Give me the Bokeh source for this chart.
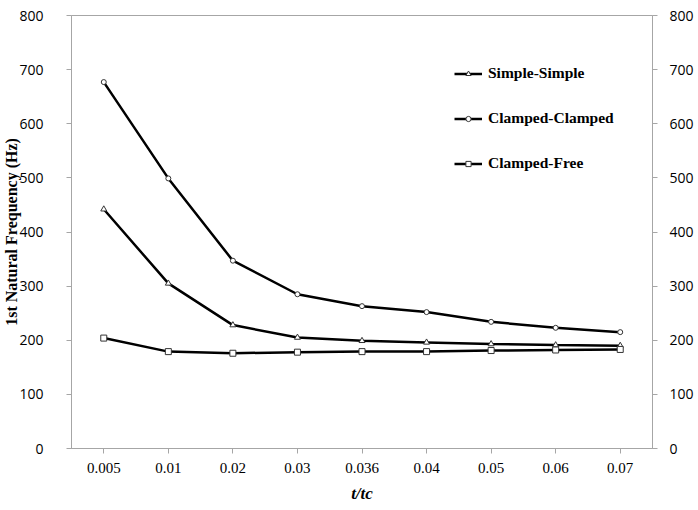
from bokeh.plotting import figure
from bokeh.models import (FactorRange, Range1d, LinearAxis, SingleIntervalTicker,
                          Legend, LegendItem)
from bokeh.embed import file_html
from bokeh.resources import INLINE

categories = ["0.005", "0.01", "0.02", "0.03", "0.036", "0.04", "0.05", "0.06", "0.07"]
simple_simple = [442, 305, 228, 205, 199, 196, 193, 191, 190]
clamped_clamped = [677, 499, 347, 285, 263, 252, 234, 223, 215]
clamped_free = [204, 179, 176, 178, 179, 179, 181, 182, 183]
y_ticks_interval = 100
y_title = "1st Natural Frequency (Hz)"
x_title = "t/tc"

AXIS_GREY = "#a6a6a6"

W, H = 696, 508
FRAME_L, FRAME_T, FRAME_R, FRAME_B = 70, 15, 656, 448

p = figure(width=W, height=H, output_backend="svg", toolbar_location=None,
           x_range=FactorRange(*categories, range_padding=0),
           y_range=Range1d(0, 800),
           min_border_left=FRAME_L, min_border_right=W - FRAME_R,
           min_border_top=FRAME_T, min_border_bottom=H - FRAME_B)
p.outline_line_color = AXIS_GREY
p.xgrid.visible = False
p.ygrid.visible = False
p.background_fill_color = "white"
p.border_fill_color = "white"

def style_y(ax, standoff):
    ax.axis_line_color = AXIS_GREY
    ax.major_tick_line_color = AXIS_GREY
    ax.major_tick_out = 5
    ax.major_tick_in = 0
    ax.minor_tick_line_color = None
    ax.major_label_standoff = standoff
    ax.major_label_text_font = "Open Sans"
    ax.major_label_text_font_size = "14px"
    ax.major_label_text_color = "#000000"

ya = p.yaxis[0]
ya.ticker = SingleIntervalTicker(interval=y_ticks_interval)
style_y(ya, 23)
ya.axis_label = y_title
ya.axis_label_text_font = "Liberation Serif"
ya.axis_label_text_font_style = "bold"
ya.axis_label_text_font_size = "16px"
ya.axis_label_text_color = "#000000"
ya.axis_label_standoff = -4

ra = LinearAxis(ticker=SingleIntervalTicker(interval=y_ticks_interval))
style_y(ra, 12)
p.add_layout(ra, "right")

xa = p.xaxis[0]
xa.axis_line_color = AXIS_GREY
xa.major_tick_line_color = AXIS_GREY
xa.major_tick_out = 5
xa.major_tick_in = 0
xa.minor_tick_line_color = None
xa.major_label_standoff = 9
xa.major_label_text_font = "Liberation Serif"
xa.major_label_text_font_size = "15px"
xa.major_label_text_color = "#000000"
xa.axis_label = x_title
xa.axis_label_text_font = "Liberation Serif"
xa.axis_label_text_font_style = "bold italic"
xa.axis_label_text_font_size = "17px"
xa.axis_label_text_color = "#000000"
xa.axis_label_standoff = 8

series = [
    ("Simple-Simple", simple_simple, "triangle", 6),
    ("Clamped-Clamped", clamped_clamped, "circle", 5),
    ("Clamped-Free", clamped_free, "square", 6),
]
items = []
for name, vals, marker, size in series:
    l = p.line(categories, vals, line_color="black", line_width=2.5)
    s = p.scatter(categories, vals, marker=marker, size=size, fill_color="white",
                  line_color="#333333", line_width=1)
    items.append(LegendItem(label=name, renderers=[l, s]))

legend = Legend(items=items, location=(383, 275), orientation="vertical",
                border_line_color=None, background_fill_alpha=0,
                padding=0, margin=0, spacing=25,
                glyph_width=28, glyph_height=13, label_height=20, label_standoff=6,
                label_text_font="Liberation Serif", label_text_font_style="bold",
                label_text_font_size="15.5px", label_text_color="#000000")
p.add_layout(legend, "center")

open("out.html", "w").write(file_html(p, INLINE))
